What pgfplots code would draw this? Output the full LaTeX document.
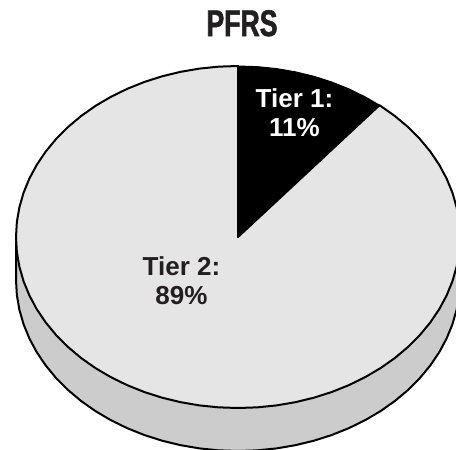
\documentclass[border=0pt]{standalone}
\usepackage{fontspec}
\setmainfont{Liberation Sans}
\newfontfamily\titlefont[FakeStretch=0.72,FakeBold=1.5]{Liberation Sans Bold}
\usepackage{pgfplots}
\usepackage{pgfplotstable}
\pgfplotsset{compat=1.18}
\definecolor{pielight}{HTML}{E5E5E5}
\definecolor{pieside}{HTML}{CCCCCC}
\definecolor{titlecol}{HTML}{231F20}
% Tier 1 wedge of the top face
\pgfplotstableread{
x y
238 237
238 66
257.35 66.65
276.55 68.60
295.46 71.83
313.93 76.31
331.82 82.02
349 88.91
365.33 96.93
379.5 105.2
238 237
}\tierone
% Tier 2 wedge of the top face
\pgfplotstableread{
x y
238 237
379.5 105.2
394.98 116.08
408.06 127.08
419.85 138.92
430.26 151.5
439.20 164.73
446.61 178.51
452.44 192.74
456.63 207.31
459.15 222.10
460 237
459.15 251.90
456.63 266.69
452.44 281.26
446.61 295.49
439.20 309.27
430.26 322.5
419.85 335.08
408.06 346.92
394.98 357.92
380.70 368.0
365.33 377.07
349 385.09
331.82 391.98
313.93 397.69
295.46 402.17
276.55 405.40
257.35 407.35
238 408
218.65 407.35
199.45 405.40
180.54 402.17
162.07 397.69
144.18 391.98
127 385.09
110.67 377.07
95.30 368
81.02 357.92
67.94 346.92
56.15 335.08
45.74 322.5
36.80 309.27
29.39 295.49
23.56 281.26
19.37 266.69
16.85 251.90
16 237
16.85 222.10
19.37 207.31
23.56 192.74
29.39 178.51
36.80 164.73
45.74 151.5
56.15 138.92
67.94 127.08
81.02 116.08
95.30 105.99
110.67 96.93
127 88.91
144.18 82.02
162.07 76.31
180.54 71.83
199.45 68.60
218.65 66.65
238 66
238 237
}\tiertwo
% Rim: the lower half of the ellipse, moved down by the depth
\pgfplotstableread{
x y
460 240
460 280
459.15 294.90
456.63 309.69
452.44 324.26
446.61 338.49
439.20 352.27
430.26 365.5
419.85 378.08
408.06 389.92
394.98 400.92
380.70 411.0
365.33 420.07
349 428.09
331.82 434.98
313.93 440.69
295.46 445.17
276.55 448.40
257.35 450.35
238 451
218.65 450.35
199.45 448.40
180.54 445.17
162.07 440.69
144.18 434.98
127 428.09
110.67 420.07
95.30 411
81.02 400.92
67.94 389.92
56.15 378.08
45.74 365.5
36.80 352.27
29.39 338.49
23.56 324.26
19.37 309.69
16.85 294.90
16 280
16 243
}\rim
\begin{document}
\begin{tikzpicture}
\path[use as bounding box] (0,0) rectangle (456pt,450pt);
\begin{axis}[
  scale only axis, width=456pt, height=450pt,
  xmin=0, xmax=456, ymin=0, ymax=450, y dir=reverse,
  hide axis, clip=true,
]
\addplot[draw=black, line width=2pt, fill=pieside] table {\rim} -- cycle;
\addplot[draw=black, line width=2pt, fill=pielight, line join=round] table {\tiertwo} -- cycle;
\addplot[draw=black, line width=1pt, fill=black, line join=round] table {\tierone} -- cycle;
\node[text=titlecol, font=\fontsize{37}{37}\selectfont\titlefont, anchor=base] at (axis cs:242,36) {PFRS};
\node[text=white, font=\fontsize{26}{29}\selectfont\bfseries, align=center] at (axis cs:294.5,112.5) {Tier 1:\\11\%};
\node[text=titlecol, font=\fontsize{26}{29}\selectfont\bfseries, align=center] at (axis cs:181.5,281) {Tier 2:\\89\%};
\end{axis}
\end{tikzpicture}
\end{document}
